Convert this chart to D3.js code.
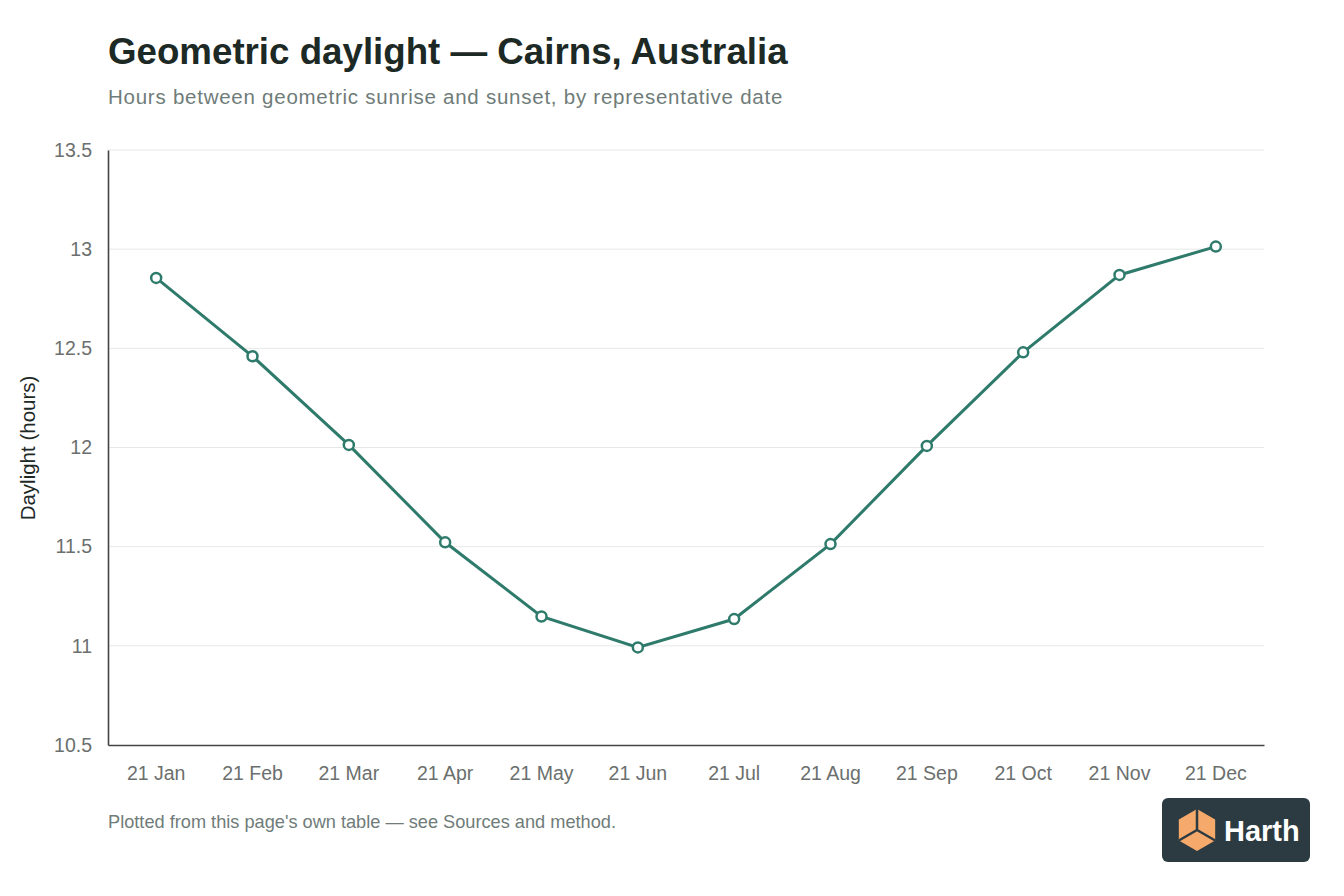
<!DOCTYPE html>
<html>
<head>
<meta charset="utf-8">
<script src="https://cdn.jsdelivr.net/npm/d3@7"></script>
<style>
  body { margin: 0; background: #fff; font-family: "Liberation Sans", Arial, sans-serif; }
</style>
</head>
<body>
<div id="chart"></div>
<script>
// data
var dates = ["21 Jan", "21 Feb", "21 Mar", "21 Apr", "21 May", "21 Jun",
             "21 Jul", "21 Aug", "21 Sep", "21 Oct", "21 Nov", "21 Dec"];
var daylight = [12.855, 12.46, 12.013, 11.522, 11.148, 10.992,
                11.135, 11.513, 12.008, 12.48, 12.87, 13.013];
var yTicks = [10.5, 11, 11.5, 12, 12.5, 13, 13.5];

var svgWidth = 1344;
var svgHeight = 896;
var margin = { top: 150, right: 80, bottom: 151, left: 108 };
var width = svgWidth - margin.left - margin.right;
var height = svgHeight - margin.top - margin.bottom;

var svg = d3.select("#chart")
  .append("svg")
  .attr("width", svgWidth)
  .attr("height", svgHeight);

// title + subtitle
svg.append("text")
  .attr("x", 108).attr("y", 64)
  .attr("font-size", "36.7px")
  .attr("font-weight", "bold")
  .attr("fill", "#1d2925")
  .text("Geometric daylight — Cairns, Australia");

svg.append("text")
  .attr("x", 108).attr("y", 104)
  .attr("font-size", "20.5px")
  .attr("letter-spacing", "0.75px")
  .attr("fill", "#6f7c79")
  .text("Hours between geometric sunrise and sunset, by representative date");

var chart = svg.append("g")
  .attr("transform", `translate(${margin.left}, ${margin.top})`);

var x = d3.scaleBand()
  .domain(dates)
  .range([0, width]);

var y = d3.scaleLinear()
  .domain([10.5, 13.5])
  .range([height, 0]);

// gridlines
chart.append("g")
  .selectAll("line")
  .data(yTicks.slice(1))
  .enter()
  .append("line")
  .attr("x1", 0).attr("x2", width)
  .attr("y1", d => y(d)).attr("y2", d => y(d))
  .attr("stroke", "#e6e8e7")
  .attr("stroke-width", 1);

// axes
var xAxis = chart.append("g")
  .attr("transform", `translate(0, ${height})`)
  .call(d3.axisBottom(x).tickSize(0).tickPadding(21));

var yAxis = chart.append("g")
  .call(d3.axisLeft(y).tickValues(yTicks).tickSize(0).tickPadding(16).tickFormat(d3.format("")));

[xAxis, yAxis].forEach(function(a) {
  a.select(".domain").attr("stroke", "#444").attr("stroke-width", 1.6);
  a.selectAll("text")
    .attr("font-family", "Liberation Sans, Arial, sans-serif")
    .attr("font-size", "19.5px")
    .attr("fill", "#6b6f6e");
});
xAxis.selectAll("text").attr("dy", "0.71em");

// y label
svg.append("text")
  .attr("transform", "translate(35, 448) rotate(-90)")
  .attr("text-anchor", "middle")
  .attr("font-size", "20.5px")
  .attr("fill", "#1d2925")
  .text("Daylight (hours)");

// line + points
var line = d3.line()
  .x((d, i) => x(dates[i]) + x.bandwidth() / 2)
  .y(d => y(d));

chart.append("path")
  .datum(daylight)
  .attr("d", line)
  .attr("fill", "none")
  .attr("stroke", "#2e7a6b")
  .attr("stroke-width", 3);

chart.selectAll("circle")
  .data(daylight)
  .enter()
  .append("circle")
  .attr("cx", (d, i) => x(dates[i]) + x.bandwidth() / 2)
  .attr("cy", d => y(d))
  .attr("r", 5)
  .attr("fill", "#fff")
  .attr("stroke", "#2e7a6b")
  .attr("stroke-width", 2.5);

// footer
svg.append("text")
  .attr("x", 108).attr("y", 828)
  .attr("font-size", "18.2px")
  .attr("fill", "#6f7c79")
  .text("Plotted from this page's own table — see Sources and method.");

// logo badge
var logo = svg.append("g").attr("transform", "translate(1162, 798)");
logo.append("rect")
  .attr("width", 148).attr("height", 64).attr("rx", 6)
  .attr("fill", "#2c3a41");
var cx = 35, cy = 32, r = 21;
var hex = d3.range(6).map(function(k) {
  var a = Math.PI / 3 * k - Math.PI / 2;
  return [cx + r * Math.cos(a), cy + r * Math.sin(a)];
});
logo.append("path")
  .attr("d", "M" + hex.join("L") + "Z")
  .attr("fill", "#f5a96b");
logo.append("path")
  .attr("d", `M${cx},${cy - r}L${cx},${cy}M${cx},${cy}L${hex[2][0]},${hex[2][1]}M${cx},${cy}L${hex[4][0]},${hex[4][1]}`)
  .attr("stroke", "#2c3a41")
  .attr("stroke-width", 2.5)
  .attr("fill", "none");
logo.append("text")
  .attr("x", 62).attr("y", 43)
  .attr("font-size", "29px")
  .attr("font-weight", "bold")
  .attr("fill", "#fff")
  .text("Harth");
</script>
</body>
</html>
